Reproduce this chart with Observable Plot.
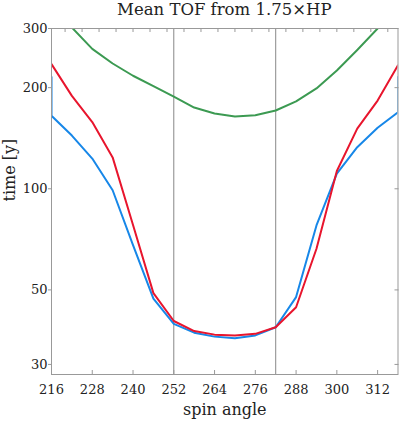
<!DOCTYPE html>
<html>
<head>
<meta charset="utf-8">
<script src="https://cdn.jsdelivr.net/npm/d3@7"></script>
<script src="https://cdn.jsdelivr.net/npm/@observablehq/plot@0.6"></script>
<style>
  html, body { margin: 0; padding: 0; background: #fff; }
  #title { height: 20px; line-height: 20px; font-family: "DejaVu Serif", serif; font-size: 16.5px;
           color: #222; text-align: center; width: 346.5px; margin-left: 51px; white-space: nowrap; }
  svg { display: block; }
</style>
</head>
<body>
<div id="title">Mean TOF from 1.75×HP</div>
<div id="chart"></div>
<script>
const angles = [216, 222, 228, 234, 240, 246, 252, 258, 264, 270, 276, 282, 288, 294, 300, 306, 312, 318];
const blueValues  = [165, 144, 123, 99, 68, 47.1, 39.6, 37.3, 36.3, 35.9, 36.6, 38.7, 47.6, 77.8, 111, 133, 152, 169];
const redValues   = [235, 189, 158, 124, 78, 48.9, 40.4, 37.7, 36.8, 36.6, 37.0, 38.7, 44.4, 66.3, 113, 151, 183, 233];
const greenValues = [355, 302, 261, 236, 217, 202, 188, 174.5, 167.5, 164, 165.5, 171, 182, 199, 225, 259, 300, 345];
const blueEdgeAngles = [216, 318];
const blueEdgeValues = [215, 215];
const dividers = [252, 282];
const xTicks = [216, 228, 240, 252, 264, 276, 288, 300, 312];
const yTicks = [30, 50, 100, 200, 300];
const topTicks = d3.range(220, 320, 5);

const series = (vals) => angles.map((a, i) => ({a, v: vals[i]}));
const blueData = [{a: blueEdgeAngles[0], v: blueEdgeValues[0]}, ...series(blueValues), {a: blueEdgeAngles[1], v: blueEdgeValues[1]}];
const redData = series(redValues);
const greenData = series(greenValues);

const BLUE = "#1787e8", RED = "#e8152d", GREEN = "#3c9a52", FRAME = "#999";

const chart = Plot.plot({
  width: 399, height: 402,
  marginLeft: 51, marginRight: 1.5, marginTop: 8, marginBottom: 48,
  style: {fontFamily: "DejaVu Serif, serif", fontSize: "13px", color: "#222", background: "#fff"},
  x: {domain: [216, 318], label: null},
  y: {type: "log", domain: [28, 300], label: null},
  marks: [
    Plot.ruleX(dividers, {stroke: "#888", strokeWidth: 1}),
    Plot.line(greenData, {x: "a", y: "v", stroke: GREEN, strokeWidth: 2, clip: true}),
    Plot.line(blueData, {x: "a", y: "v", stroke: BLUE, strokeWidth: 2, clip: true}),
    Plot.line(redData, {x: "a", y: "v", stroke: RED, strokeWidth: 2, clip: true}),
    Plot.frame({stroke: FRAME}),
    Plot.axisY(yTicks, {anchor: "left", tickSize: 3, tickPadding: 1, stroke: FRAME, fontSize: 13, tickFormat: d => String(d), label: null}),
    Plot.axisY(yTicks, {anchor: "right", tickSize: 4, dx: -4, tickFormat: () => "", stroke: FRAME, label: null}),
    Plot.axisX(xTicks, {anchor: "bottom", tickSize: 4, dy: -4, tickFormat: () => "", stroke: FRAME, label: null}),
    Plot.axisX(xTicks, {anchor: "bottom", tickSize: 0, tickPadding: 10, fontSize: 13, tickFormat: d => String(d), label: null}),
    Plot.axisX(topTicks, {anchor: "top", tickSize: 3, dy: 3, tickFormat: () => "", stroke: FRAME, label: null}),
    Plot.text(["spin angle"], {frameAnchor: "bottom", dy: 29, lineAnchor: "top", fontSize: 16, fill: "#222"}),
    Plot.text(["time [y]"], {frameAnchor: "left", dx: -42, rotate: -90, fontSize: 16, fill: "#222"})
  ]
});
document.getElementById("chart").appendChild(chart);
</script>
</body>
</html>
